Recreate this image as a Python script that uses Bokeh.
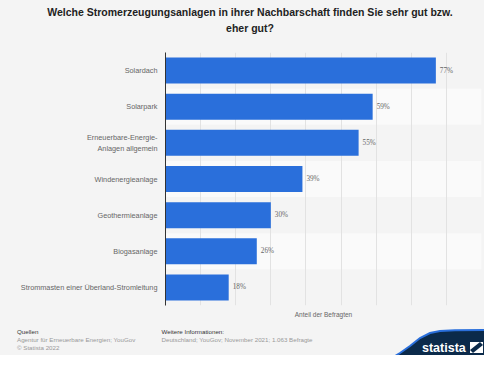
from bokeh.plotting import figure
from bokeh.layouts import column
from bokeh.embed import file_html
from bokeh.resources import INLINE
from bokeh.models import (FactorRange, Range1d, ColumnDataSource, LabelSet, Div,
                          FixedTicker, SingleIntervalTicker)

# ---- data ----
categories = ["Solardach", "Solarpark", "Erneuerbare-Energie-\nAnlagen allgemein",
              "Windenergieanlage", "Geothermieanlage", "Biogasanlage",
              "Strommasten einer Überland-Stromleitung"]
values = [77, 59, 55, 39, 30, 26, 18]
value_labels = [f"{v}%" for v in values]
x_max = 90
title_lines = ["Welche Stromerzeugungsanlagen in ihrer Nachbarschaft finden Sie sehr gut bzw.",
               "eher gut?"]
x_label = "Anteil der Befragten"
footer_left = ["Quellen", "Agentur für Erneuerbare Energien; YouGov", "© Statista 2022"]
footer_right = ["Weitere Informationen:", "Deutschland; YouGov; November 2021; 1.063 Befragte"]

FONT = "Liberation Sans"
BG = "#f4f4f4"
BAND = "#fafafa"
BAR = "#2a6fdb"
NAVY = "#0b2a4a"
W, H = 484, 355
F_LEFT, F_RIGHT, F_TOP, F_BOTTOM = 165, 481, 52, 305
FOOT_TOP = 322


def span(x, y, txt, size, color, bold=False, center=False):
    tx = "-50%" if center else "0"
    return (f'<div style="position:absolute;left:{x}px;top:{y}px;'
            f'transform:translate({tx},-50%);white-space:nowrap;line-height:1;'
            f'font-family:\'{FONT}\';font-size:{size}px;color:{color};'
            f'font-weight:{"bold" if bold else "normal"};">{txt}</div>')


def box(height, inner, lead=""):
    return (f'<div style="position:relative;width:{W}px;height:{height}px;'
            f'background:{BG};overflow:hidden;margin:0;padding:0;line-height:0;">'
            f'{lead}{inner}</div>')


# ---------- title strip ----------
title_html = "".join(span(250, 12 + 16 * i, line, 10.5, "#222222", bold=True, center=True)
                     for i, line in enumerate(title_lines))
title_div = Div(text=box(F_TOP, title_html), width=W, height=F_TOP, margin=(0, 0, 0, 0),
                styles={"background-color": BG})

# ---------- main chart ----------
src = ColumnDataSource(dict(cat=categories, val=values, lab=value_labels,
                            zero=[0] * len(values)))

p = figure(width=W, height=FOOT_TOP - F_TOP, output_backend="svg", toolbar_location=None,
           title=None,
           y_range=FactorRange(factors=categories[::-1]),
           x_range=Range1d(0, x_max),
           min_border_left=F_LEFT, min_border_right=W - F_RIGHT,
           min_border_top=0, min_border_bottom=FOOT_TOP - F_BOTTOM)
p.background_fill_color = BG
p.border_fill_color = BG
p.outline_line_color = None

alt = [c for i, c in enumerate(categories) if i % 2 == 1]
p.hbar(y=alt, left=0, right=x_max, height=1.0, fill_color=BAND, line_color=None,
       level="image")
p.hbar(y="cat", left="zero", right="val", height=0.72, source=src,
       fill_color=BAR, line_color=None)

p.yaxis.axis_line_color = "#333333"
p.yaxis.axis_line_width = 1
p.yaxis.major_tick_line_color = None
p.yaxis.minor_tick_line_color = None
p.yaxis.major_tick_out = 0
p.yaxis.major_tick_in = 0
p.yaxis.major_label_text_font = FONT
p.yaxis.major_label_text_font_size = "7.3px"
p.yaxis.major_label_text_color = "#666666"
p.yaxis.major_label_standoff = 8

p.xaxis.ticker = FixedTicker(ticks=[])
p.xaxis.axis_line_color = None
p.xaxis.major_tick_line_color = None
p.xaxis.minor_tick_line_color = None
p.xaxis.major_tick_out = 0
p.xaxis.major_label_standoff = 0
p.xaxis.axis_label = x_label
p.xaxis.axis_label_text_font = FONT
p.xaxis.axis_label_text_font_size = "6.5px"
p.xaxis.axis_label_text_font_style = "normal"
p.xaxis.axis_label_text_color = "#666666"
p.xaxis.axis_label_standoff = 5

p.ygrid.grid_line_color = None
p.xgrid.ticker = SingleIntervalTicker(interval=10, num_minor_ticks=0)
p.xgrid.grid_line_color = "#e2e2e2"
p.xgrid.grid_line_width = 1

p.add_layout(LabelSet(x="val", y="cat", text="lab", source=src, x_offset=4,
                      text_align="left", text_baseline="middle",
                      text_font=FONT, text_font_size="7.2px", text_color="#666666"))

# ---------- footer ----------
fh = H - FOOT_TOP
t = FOOT_TOP
foot_html = ""
for i, txt in enumerate(footer_left):
    foot_html += span(17, 332.3 + 8 * i - t, txt, 6.2, "#333333" if i == 0 else "#999999")
for i, txt in enumerate(footer_right):
    foot_html += span(161.5, 332.3 + 8 * i - t, txt, 6.2, "#333333" if i == 0 else "#999999")

# logo (lifted a few px so that it fits inside the smaller canvas)
LIFT = 8
wave = [(392, 366), (400, 361), (410, 354), (420, 346), (430, 341), (440, 339),
        (455, 338.2), (500, 338)]
pts = " ".join(f"{x},{y - t - LIFT}" for x, y in wave)
fill_pts = pts + f" 500,{fh + 5} 392,{fh + 5}"
ix0, ix1 = 470, 483
iy0, iy1 = 350 - t - LIFT, 361 - t - LIFT
logo_svg = (f'<svg width="{W}" height="{fh}" style="position:absolute;left:0px;top:0px;'
            f'display:block;">'
            f'<polygon points="{fill_pts}" fill="{NAVY}"/>'
            f'<polyline points="{pts}" fill="none" stroke="{BAR}" stroke-width="2"/>'
            f'<polygon points="{ix0},{iy0} {ix1},{iy0} {ix1},{iy1} {ix0},{iy1}" fill="white"/>'
            f'<polygon points="{ix0},{iy1 - 3} {ix1 - 3},{iy0} {ix1},{iy0 + 3} {ix0 + 3},{iy1}" '
            f'fill="{NAVY}"/>'
            f'</svg>')
foot_html = logo_svg + foot_html
foot_html += span(422, 356 - t - LIFT, "statista", 12.5, "white", bold=True)
foot_div = Div(text=box(fh, foot_html), width=W, height=fh, margin=(0, 0, 0, 0),
               styles={"background-color": BG})

layout = column(title_div, p, foot_div, spacing=0)
layout.styles = {"background-color": BG}
open("out.html", "w").write(file_html(layout, INLINE))
